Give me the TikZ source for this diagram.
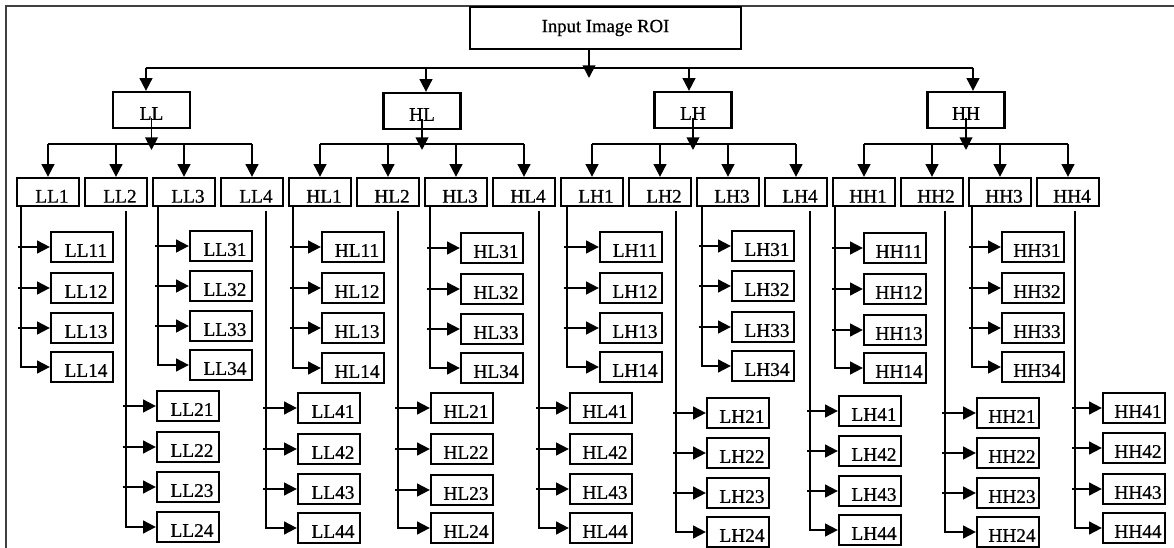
\documentclass[tikz,border=0pt]{standalone}
\usepackage{fontspec}
\setmainfont{Liberation Serif}
\newfontfamily\heavyserif{Liberation Serif}[FakeBold=0.7]
\usetikzlibrary{arrows.meta}
\newcommand\tx[1]{\hspace*{6pt}#1}
\begin{document}
\begin{tikzpicture}[x=0.75pt,y=-0.75pt,
  basebox/.style={draw, line width=1.7pt, inner sep=0pt, font=\heavyserif\fontsize{14.5}{17}\selectfont},
  rootbox/.style={basebox, minimum width=203pt, minimum height=31.5pt, font=\heavyserif\fontsize{14}{17}\selectfont},
  lonebox/.style={basebox, minimum width=57.75pt, minimum height=27pt, text height=14.8pt, text depth=0pt},
  ltwobox/.style={basebox, minimum width=46.5pt, minimum height=21pt, text height=16pt, text depth=0pt},
  lthreebox/.style={basebox, minimum width=46.5pt, minimum height=22pt, text height=14.8pt, text depth=0pt},
  conn/.style={line width=1.4pt},
  arr/.style={conn, -{Triangle[length=9.5pt,width=9.5pt]}},
  frameline/.style={line width=0.8pt, black!75}
]
\useasboundingbox (0,0) rectangle (1174,548);
\draw[frameline] (6,548) -- (6,6) -- (1174,6);

% root
\node[rootbox] (root) at (605.5,28) {Input Image ROI};
\coordinate (rtx) at (589,78);
\draw[arr] (rtx |- root.south) -- (rtx);

% level 1
\node[lonebox] (LL) at (151.5,110) {LL};
\node[lonebox] (HL) at (422,111) {HL};
\node[lonebox] (LH) at (693,110) {LH};
\node[lonebox] (HH) at (966,110) {HH};
\coordinate (t1) at (146,68);
\coordinate (t2) at (426,68);
\coordinate (t3) at (689,68);
\coordinate (t4) at (973,68);
\draw[conn] (t1) -- (t4);
\draw[arr] (t1) -- (t1 |- LL.north);
\draw[arr] (t2) -- (t2 |- HL.north);
\draw[arr] (t3) -- (t3 |- LH.north);
\draw[arr] (t4) -- (t4 |- HH.north);

% level 2
\coordinate (yl2) at (0,144);
\coordinate (yb) at (0,150);
\foreach \k/\nm in {0/LL1,1/LL2,2/LL3,3/LL4,4/HL1,5/HL2,6/HL3,7/HL4,8/LH1,9/LH2,10/LH3,11/LH4,12/HH1,13/HH2,14/HH3,15/HH4}{
  \node[ltwobox] (\nm) at ({48+68*\k},192) {\tx{\nm}};
  \draw[arr] (\nm.north |- yl2) -- (\nm.north);
}
\foreach \g/\a/\b in {LL/LL1/LL4, HL/HL1/HL4, LH/LH1/LH4, HH/HH1/HH4}{
  \draw[conn] (\a.north |- yl2) -- (\b.north |- yl2);
  \draw[arr] ([yshift=-6pt]\g.center) -- (\g.center |- yb);
}

% level 3
\foreach \nm/\lx/\cx/\ty/\ra/\rb/\rc/\rd in {
  LL1/21/51/206/247/288/328/367,
  LL2/126/157/211/406/447/487/527,
  LL3/158/190/206/246/286/326/365,
  LL4/266/298/211/408/449/489/528,
  HL1/293/322/206/247/288/328/368,
  HL2/398/431/211/408/449/490/528,
  HL3/430/461/206/248/289/329/368,
  HL4/539/570/211/408/449/489/528,
  LH1/567/600/206/247/288/328/367,
  LH2/676/707/211/413/453/493/532,
  LH3/702/732/206/246/286/327/366,
  LH4/810/839/211/411/451/491/530,
  HH1/835/864/206/248/289/330/368,
  HH2/945/977/211/413/453/493/532,
  HH3/972/1002/206/247/288/328/367,
  HH4/1075/1103/211/408/448/489/528}{
  \node[lthreebox] (\nm1) at ({\cx+31},\ra) {\tx{\nm1}};
  \node[lthreebox] (\nm2) at ({\cx+31},\rb) {\tx{\nm2}};
  \node[lthreebox] (\nm3) at ({\cx+31},\rc) {\tx{\nm3}};
  \node[lthreebox] (\nm4) at ({\cx+31},\rd) {\tx{\nm4}};
  \coordinate (\nm top) at (\lx,\ty);
  \coordinate (\nm s1) at ({\lx-3},\ra);
  \coordinate (\nm s2) at ({\lx-3},\rb);
  \coordinate (\nm s3) at ({\lx-3},\rc);
  \draw[arr] (\nm top) |- (\nm4.west);
  \draw[arr] (\nm s1) -- (\nm1.west);
  \draw[arr] (\nm s2) -- (\nm2.west);
  \draw[arr] (\nm s3) -- (\nm3.west);
}
\end{tikzpicture}
\end{document}
